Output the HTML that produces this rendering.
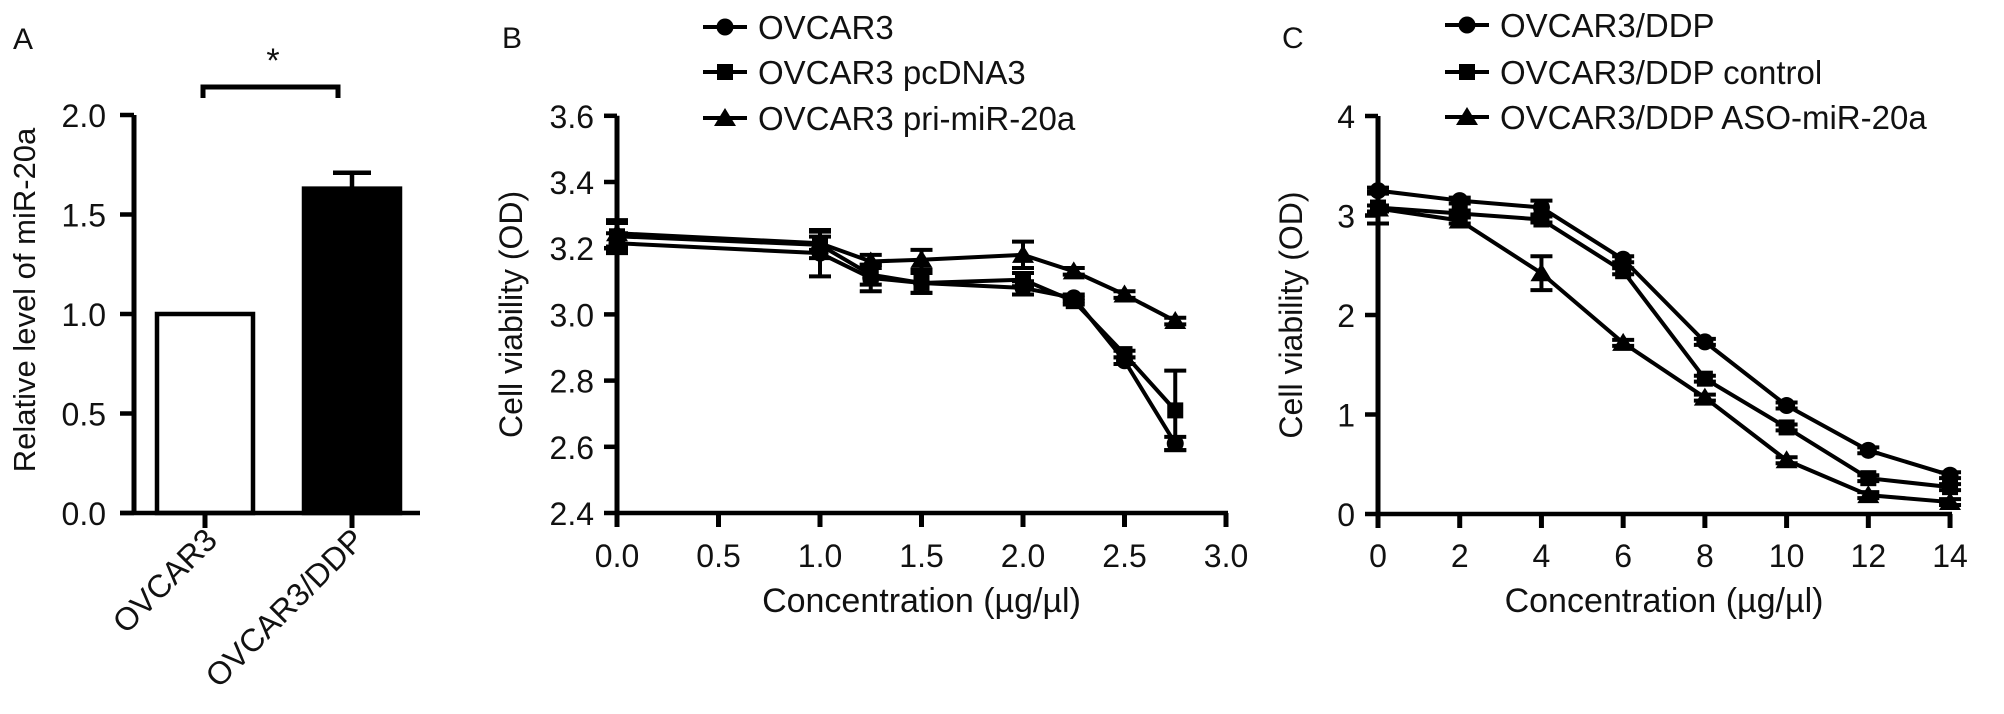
<!DOCTYPE html>
<html>
<head>
<meta charset="utf-8">
<style>
html,body{margin:0;padding:0;background:#fff;}
svg{display:block;}
text{font-family:"Liberation Sans",Arial,sans-serif;fill:#111;}
</style>
</head>
<body>
<svg id="fig" width="2004" height="714" viewBox="0 0 2004 714" xmlns="http://www.w3.org/2000/svg"></svg>
<script>
// ---------- Panel A data ----------
const aCategories = ["OVCAR3", "OVCAR3/DDP"];
const aValues = [1.0, 1.63];
const aErrors = [0, 0.08];
const aTicks = [0, 0.5, 1.0, 1.5, 2.0];
const aTickLabels = ["0.0", "0.5", "1.0", "1.5", "2.0"];

// ---------- Panel B data ----------
const bX = [0, 1, 1.25, 1.5, 2, 2.25, 2.5, 2.75];
const bOvcar3 = [3.215, 3.185, 3.11, 3.095, 3.08, 3.05, 2.86, 2.61];
const bPcdna3 = [3.236, 3.21, 3.12, 3.095, 3.105, 3.04, 2.88, 2.71];
const bPri = [3.245, 3.215, 3.16, 3.165, 3.18, 3.13, 3.06, 2.98];
const bOvcar3Err = [0.03, 0.07, 0.04, 0.03, 0.02, 0.01, 0.01, 0.02];
const bPcdna3Err = [0.04, 0.04, 0.03, 0.03, 0.02, 0.01, 0.01, 0.12];
const bPriErr = [0.04, 0.02, 0.02, 0.03, 0.04, 0.01, 0.01, 0.01];
const bXTicks = [0, 0.5, 1.0, 1.5, 2.0, 2.5, 3.0];
const bXTickLabels = ["0.0", "0.5", "1.0", "1.5", "2.0", "2.5", "3.0"];
const bYTicks = [2.4, 2.6, 2.8, 3.0, 3.2, 3.4, 3.6];
const bYTickLabels = ["2.4", "2.6", "2.8", "3.0", "3.2", "3.4", "3.6"];
const bLegend = ["OVCAR3", "OVCAR3 pcDNA3", "OVCAR3 pri-miR-20a"];

// ---------- Panel C data ----------
const cX = [0, 2, 4, 6, 8, 10, 12, 14];
const cDdp = [3.25, 3.15, 3.08, 2.56, 1.73, 1.09, 0.64, 0.39];
const cControl = [3.08, 3.02, 2.96, 2.44, 1.36, 0.87, 0.36, 0.27];
const cAso = [3.07, 2.95, 2.42, 1.72, 1.17, 0.54, 0.19, 0.12];
const cDdpErr = [0.03, 0.03, 0.07, 0.03, 0.03, 0.03, 0.03, 0.03];
const cControlErr = [0.16, 0.03, 0.03, 0.03, 0.03, 0.03, 0.03, 0.03];
const cAsoErr = [0.03, 0.03, 0.17, 0.03, 0.03, 0.03, 0.03, 0.03];
const cXTicks = [0, 2, 4, 6, 8, 10, 12, 14];
const cXTickLabels = ["0", "2", "4", "6", "8", "10", "12", "14"];
const cYTicks = [0, 1, 2, 3, 4];
const cYTickLabels = ["0", "1", "2", "3", "4"];
const cLegend = ["OVCAR3/DDP", "OVCAR3/DDP control", "OVCAR3/DDP ASO-miR-20a"];

const svg = document.getElementById('fig');
const NS = "http://www.w3.org/2000/svg";
function mk(tag, attrs, parent) {
  const e = document.createElementNS(NS, tag);
  for (const k in attrs) e.setAttribute(k, attrs[k]);
  (parent || svg).appendChild(e);
  return e;
}
function line(x1, y1, x2, y2, w, p) {
  return mk('line', {x1: x1, y1: y1, x2: x2, y2: y2, stroke: '#000', 'stroke-width': w || 4, 'stroke-linecap': 'butt'}, p);
}
function txt(s, x, y, size, anchor, p, rot) {
  const a = {x: 0, y: 0, 'font-size': size, 'text-anchor': anchor || 'middle',
    transform: 'translate(' + x + ' ' + y + ')' + (rot ? ' rotate(' + rot + ')' : '')};
  const t = mk('text', a, p);
  t.textContent = s;
  return t;
}
function marker(kind, x, y, p) {
  if (kind === 'circle') return mk('circle', {cx: x, cy: y, r: 8.5, fill: '#000'}, p);
  if (kind === 'square') return mk('rect', {x: x - 8, y: y - 8, width: 16, height: 16, fill: '#000'}, p);
  return mk('polygon', {points: x + ',' + (y - 10) + ' ' + (x - 11) + ',' + (y + 8) + ' ' + (x + 11) + ',' + (y + 8), fill: '#000'}, p);
}

// ================= Panel A =================
const gA = mk('g', {});


const aAxisX = 134, aY0 = 513, aUnit = 199;
function aY(v) { return aY0 - v * aUnit; }
const aCenters = [205, 352];
const pl = txt('A', 13, 49, 30, 'start', gA);


aValues.forEach((v, i) => {
  const r = mk('rect', {x: aCenters[i] - 48, y: aY(v), width: 96, height: aY0 - aY(v),
    fill: i === 0 ? '#fff' : '#000', stroke: '#000', 'stroke-width': 4.5}, gA);
  
  
  if (aErrors[i] > 0) {
    const eb = mk('g', {}, gA);
    
    
    line(aCenters[i], aY(v), aCenters[i], aY(v + aErrors[i]), 4.5, eb);
    line(aCenters[i] - 19, aY(v + aErrors[i]), aCenters[i] + 19, aY(v + aErrors[i]), 4.5, eb);
  }
});
const aAx = mk('g', {}, gA);


line(aAxisX, aY(2.0), aAxisX, aY0 + 2, 5, aAx);
aTicks.forEach((t, i) => {
  line(120, aY(t), aAxisX, aY(t), 4.5, aAx);
  const tl = txt(aTickLabels[i], 106, aY(t) + 12, 32, 'end', aAx);
  
  
});
const aXAx = mk('g', {}, gA);


line(120, aY0, 420, aY0, 4.5, aXAx);
aCategories.forEach((c, i) => {
  line(aCenters[i], aY0, aCenters[i], 528, 5, aXAx);
  const t = txt(c, aCenters[i] + 14, 542, 32, 'end', aXAx, -45);
  
  
});
const aTitle = txt('Relative level of miR-20a', 35, 300, 31, 'middle', gA, -90);


const br = mk('g', {}, gA);


mk('polyline', {points: '203,98 203,87 338,87 338,98', fill: 'none', stroke: '#000', 'stroke-width': 5}, br);
const star = txt('*', 273, 72, 34, 'middle', br);



// ================= Line panels =================
function linePanel(opts) {
  const g = mk('g', {});
  
  
  const xs = v => opts.x0 + (v - opts.xmin) * opts.xunit;
  const ys = v => opts.y0 - (v - opts.ymin) * opts.yunit;
  const lbl = txt(opts.letter, opts.letterX, 48, 30, 'start', g);
  
  
  const ya = mk('g', {}, g);
  
  
  const yTop = ys(opts.yTicks[opts.yTicks.length - 1]);
  line(opts.x0, yTop, opts.x0, opts.y0 + 2, 5, ya);
  opts.yTicks.forEach((t, i) => {
    line(opts.x0 - 13, ys(t), opts.x0, ys(t), 4.5, ya);
    const tl = txt(opts.yTickLabels[i], opts.x0 - 23, ys(t) + 12, 32, 'end', ya);
    
    
  });
  const xa = mk('g', {}, g);
  
  
  const xEnd = xs(opts.xTicks[opts.xTicks.length - 1]);
  line(opts.x0 - 2, opts.y0, xEnd + 2, opts.y0, 4.5, xa);
  opts.xTicks.forEach((t, i) => {
    line(xs(t), opts.y0, xs(t), opts.y0 + 14, 5, xa);
    const tl = txt(opts.xTickLabels[i], xs(t), 567, 32, 'middle', xa);
    
    
  });
  const xt = txt('Concentration (\u00b5g/\u00b5l)', (opts.x0 + xEnd) / 2, 612, 34, 'middle', g);
  
  
  const ymid = (yTop + opts.y0) / 2;
  const yt = txt('Cell viability (OD)', opts.yTitleX, ymid, 32, 'middle', g, -90);
  
  
  opts.series.forEach((s, si) => {
    const sg = mk('g', {}, g);
    
    
    const pts = opts.xData.map((xv, i) => xs(xv) + ',' + ys(s.values[i])).join(' ');
    mk('polyline', {points: pts, fill: 'none', stroke: '#000', 'stroke-width': 4, 'stroke-linejoin': 'round'}, sg);
    opts.xData.forEach((xv, i) => {
      const px = xs(xv), v = s.values[i], e = s.errs[i];
      line(px, ys(v + e), px, ys(v - e), 4, sg);
      line(px - 11, ys(v + e), px + 11, ys(v + e), 4, sg);
      line(px - 11, ys(v - e), px + 11, ys(v - e), 4, sg);
      const m = marker(s.marker, px, ys(v), sg);
      
      
    });
    const lg = mk('g', {}, g);
    
    
    const ly = opts.legendY[si];
    line(opts.legendX, ly, opts.legendX + 44, ly, 4, lg);
    marker(s.marker, opts.legendX + 22, ly, lg);
    txt(opts.legend[si], opts.legendX + 55, ly + 12, 33, 'start', lg);
  });
}

linePanel({
  name: 'panel-b', letter: 'B', letterX: 502, yTitleX: 522,
  x0: 617, xmin: 0, xunit: 203, y0: 513, ymin: 2.4, yunit: 331,
  xTicks: bXTicks, xTickLabels: bXTickLabels, yTicks: bYTicks, yTickLabels: bYTickLabels,
  xData: bX, legend: bLegend, legendX: 703, legendY: [27, 72, 118],
  series: [
    {key: 'ovcar3', values: bOvcar3, errs: bOvcar3Err, marker: 'circle'},
    {key: 'ovcar3-pcdna3', values: bPcdna3, errs: bPcdna3Err, marker: 'square'},
    {key: 'ovcar3-pri-mir-20a', values: bPri, errs: bPriErr, marker: 'triangle'}
  ]
});

linePanel({
  name: 'panel-c', letter: 'C', letterX: 1282, yTitleX: 1302,
  x0: 1378, xmin: 0, xunit: 40.86, y0: 514, ymin: 0, yunit: 99.5,
  xTicks: cXTicks, xTickLabels: cXTickLabels, yTicks: cYTicks, yTickLabels: cYTickLabels,
  xData: cX, legend: cLegend, legendX: 1445, legendY: [25, 72, 117],
  series: [
    {key: 'ovcar3-ddp', values: cDdp, errs: cDdpErr, marker: 'circle'},
    {key: 'ovcar3-ddp-control', values: cControl, errs: cControlErr, marker: 'square'},
    {key: 'ovcar3-ddp-aso-mir-20a', values: cAso, errs: cAsoErr, marker: 'triangle'}
  ]
});
</script>
</body>
</html>
